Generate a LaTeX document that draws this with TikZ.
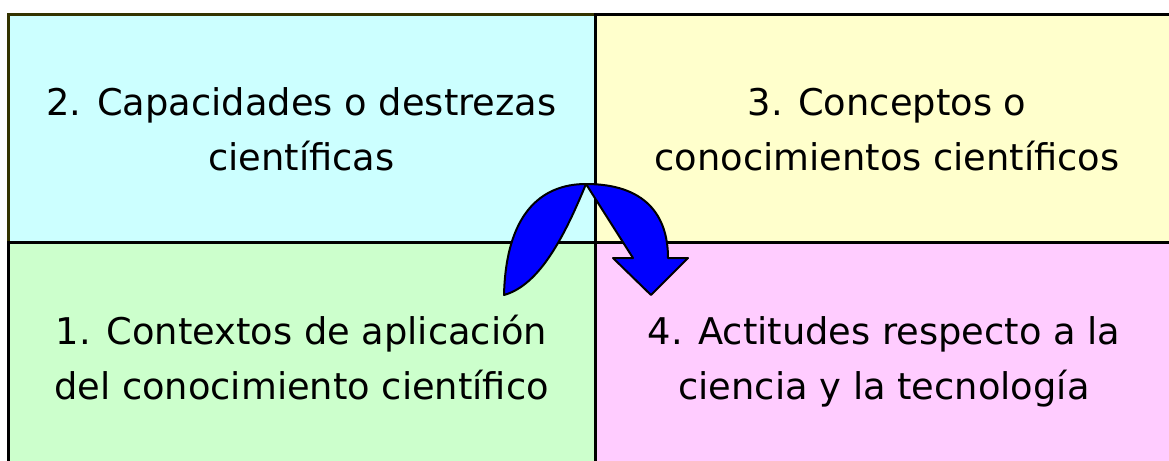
\documentclass[tikz,border=0pt]{standalone}
\usepackage{fontspec}
\setmainfont{DejaVu Sans}
\definecolor{celeste}{HTML}{CCFFFF}
\definecolor{crema}{HTML}{FFFFCC}
\definecolor{menta}{HTML}{CCFFCC}
\definecolor{rosa}{HTML}{FFCCFF}
\definecolor{oliva}{HTML}{333300}
\begin{document}
\begin{tikzpicture}[x=0.5pt,y=-0.5pt,
    cell/.style={draw=black,line width=1.5pt},
    txt/.style={anchor=base,align=center,font=\fontsize{18.4}{27.5}\selectfont},
    flecha/.style={draw=black,fill=blue,line width=1pt,line join=round}]
    \useasboundingbox (0,0) rectangle (1169,461);
    \clip (0,0) rectangle (1169,461);
    % cuadrantes
    \draw[cell,draw=oliva,fill=celeste] (8,14) rectangle (595,242);
    \draw[cell,fill=crema] (595,14) rectangle (1180,242);
    \draw[cell,fill=menta] (8,242) rectangle (595,480);
    \draw[cell,fill=rosa] (595,242) rectangle (1180,480);
    \node[txt] (capac) at (301.5,170.5) {2. Capacidades o destrezas\\científicas};
    \node[txt] (concep) at (887,170.5) {3. Conceptos o\\conocimientos científicos};
    \node[txt] (context) at (301.5,399) {1. Contextos de aplicación\\del conocimiento científico};
    \node[txt] (actit) at (884,399) {4. Actitudes respecto a la\\ciencia y la tecnología};
    % flecha curva
    \draw[flecha] (586,184) .. controls (645,184) and (668,215) .. (668,258) -- (688,258) -- (651,295) -- (613,258) -- (633,258) -- (586,184)
        .. controls (565,235) and (540,285) .. (504,295) .. controls (506,215) and (540,184) .. (586,184) -- cycle;
\end{tikzpicture}
\end{document}
